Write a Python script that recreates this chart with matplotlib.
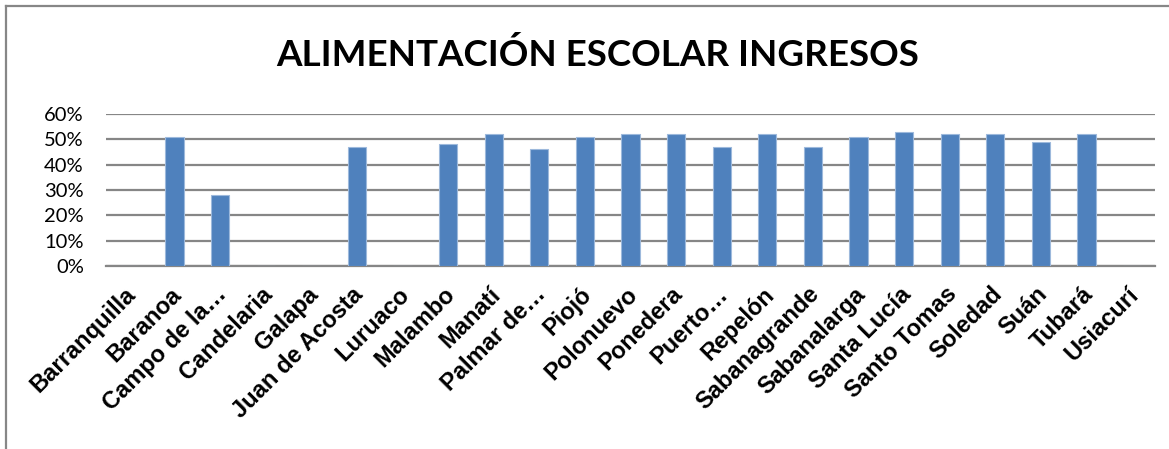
import matplotlib.pyplot as plt
from matplotlib.lines import Line2D
from matplotlib.transforms import ScaledTranslation

# ── Data ──────────────────────────────────────────────────────────────────────
municipios = [
    "Barranquilla", "Baranoa", "Campo de la…", "Candelaria", "Galapa",
    "Juan de Acosta", "Luruaco", "Malambo", "Manatí", "Palmar de…", "Piojó",
    "Polonuevo", "Ponedera", "Puerto…", "Repelón", "Sabanagrande",
    "Sabanalarga", "Santa Lucía", "Santo Tomas", "Soledad", "Suán", "Tubará",
    "Usiacurí",
]
ingresos = [0.00, 0.51, 0.28, 0.00, 0.00, 0.47, 0.00, 0.48, 0.52, 0.46, 0.51,
            0.52, 0.52, 0.47, 0.52, 0.47, 0.51, 0.53, 0.52, 0.52, 0.49, 0.52,
            0.00]
y_ticks = [0.0, 0.1, 0.2, 0.3, 0.4, 0.5, 0.6]
y_labels = ["0%", "10%", "20%", "30%", "40%", "50%", "60%"]
titulo = "ALIMENTACIÓN ESCOLAR INGRESOS"

BAR_BLUE = "#4F81BD"
GRID_GRAY = "#868686"

W, H = 1169, 449
fig = plt.figure(figsize=(W / 100, H / 100), dpi=100)
fig.patch.set_facecolor("white")

# plot area in pixel coordinates → figure fractions
left, right, top, bottom = 106, 1155, 114, 266
ax = fig.add_axes([left / W, 1 - bottom / H, (right - left) / W, (bottom - top) / H])

x = range(len(municipios))
ax.bar(x, ingresos, width=0.4, color=BAR_BLUE, edgecolor="#9DB9DC",
       linewidth=0.8, zorder=3)

ax.set_xlim(-0.5, len(municipios) - 0.5)
ax.set_ylim(0, 0.6)
ax.set_yticks(y_ticks)
ax.set_yticklabels(y_labels, family="Lato", fontsize=14.5)
ax.yaxis.grid(True, color=GRID_GRAY, linewidth=1.6, zorder=0)
ax.set_axisbelow(True)

ax.set_xticks(list(x))
ax.set_xticklabels(municipios, rotation=45, ha="right", rotation_mode="anchor",
                   family="Liberation Sans", fontweight="bold", fontsize=17)
ax.tick_params(axis="x", length=0, pad=12)
ax.tick_params(axis="y", length=0, pad=16)
# nudge the slanted labels a little to the left, as in the original
shift = ScaledTranslation(-5 / 100, 0, fig.dpi_scale_trans)
for lbl in ax.get_xticklabels():
    lbl.set_transform(lbl.get_transform() + shift)

for side in ("top", "right", "left"):
    ax.spines[side].set_visible(False)
ax.spines["bottom"].set_color(GRID_GRAY)
ax.spines["bottom"].set_linewidth(1.6)

fig.text(598 / W, 1 - 55 / H, titulo, ha="center", va="center",
         family="Lato", fontweight="bold", fontsize=26.5)

# chart frame (only the top and left edges fall inside the picture)
fig.add_artist(Line2D([6 / W, 1], [1 - 6 / H, 1 - 6 / H], color="#878787", linewidth=1.6))
fig.add_artist(Line2D([6 / W, 6 / W], [0, 1 - 6 / H], color="#878787", linewidth=1.6))

plt.savefig("out.png", dpi=100)
